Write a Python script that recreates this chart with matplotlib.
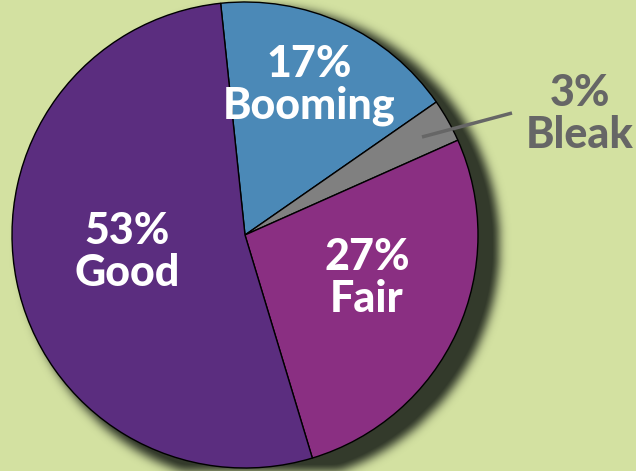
import numpy as np
import matplotlib
matplotlib.use("Agg")
import matplotlib.pyplot as plt

# данные
labels = ["Booming", "Bleak", "Fair", "Good"]
shares = [17, 3, 27, 53]
colors = ["#4b89b7", "#808080", "#8a2f82", "#5b2d7f"]

W, H = 636, 471
bg = "#d3e1a1"
cx, cy, r = 245, 236, 233

fig = plt.figure(figsize=(W / 100, H / 100), dpi=100, facecolor=bg)
ax = fig.add_axes([0, 0, 1, 1])
ax.set_xlim(0, W)
ax.set_ylim(0, H)
ax.set_aspect("equal")
ax.axis("off")

# размытая тень под кругом
yy, xx = np.mgrid[0:H, 0:W]
d = np.hypot(xx - (cx + 15), (H - yy) - (cy - 10))
disk = (d <= r + 6).astype(float)
k = np.exp(-np.linspace(-3, 3, 31) ** 2 / 2)
k /= k.sum()
blur = np.apply_along_axis(lambda v: np.convolve(v, k, mode="same"), 0, disk)
blur = np.apply_along_axis(lambda v: np.convolve(v, k, mode="same"), 1, blur)
shadow = np.zeros((H, W, 4))
shadow[..., 0] = 0.20
shadow[..., 1] = 0.23
shadow[..., 2] = 0.17
shadow[..., 3] = np.clip(blur * 1.1, 0, 1)
ax.imshow(shadow, extent=(0, W, 0, H), zorder=0)

ax.pie(shares, colors=colors, startangle=96, counterclock=False,
       center=(cx, cy), radius=r,
       wedgeprops=dict(edgecolor="black", linewidth=1.0))
ax.set_xlim(0, W)
ax.set_ylim(0, H)

font = ["Lato", "DejaVu Sans"]
kw = dict(ha="center", va="center", fontsize=31, fontweight="black",
          family=font, linespacing=1.05)
ax.text(309, H - 85, f"{shares[0]}%\n{labels[0]}", color="white", **kw)
ax.text(127, H - 252, f"{shares[3]}%\n{labels[3]}", color="white", **kw)
ax.text(367, H - 278, f"{shares[2]}%\n{labels[2]}", color="white", **kw)
ax.text(580, H - 114, f"{shares[1]}%\n{labels[1]}", color="#666666", **kw)
ax.plot([422, 512], [H - 137, H - 113], color="#666666", lw=2.5,
        solid_capstyle="butt")

fig.savefig("out.png", dpi=100, facecolor=bg)
